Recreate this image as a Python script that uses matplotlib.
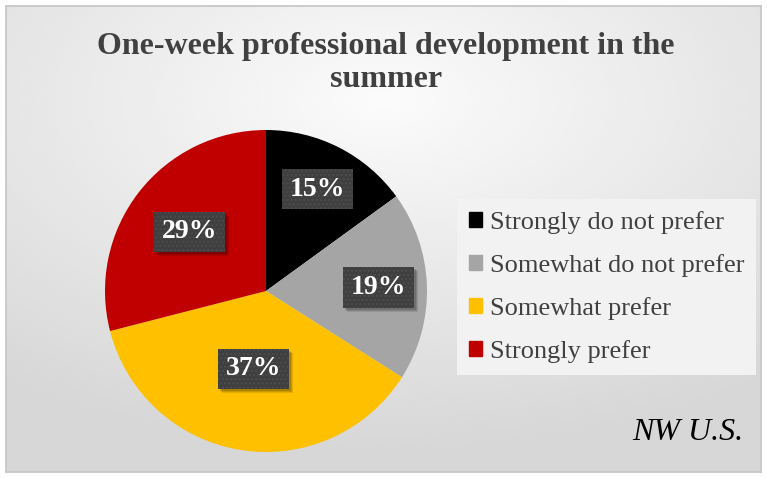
import numpy as np
import matplotlib.pyplot as plt
from matplotlib.patches import Rectangle
from matplotlib.transforms import IdentityTransform

# survey responses
categories = ["Strongly do not prefer", "Somewhat do not prefer",
              "Somewhat prefer", "Strongly prefer"]
shares = [15, 19, 37, 29]
colors = ["#000000", "#a5a5a5", "#ffc000", "#c00000"]
# how far out (fraction of radius) each percent box sits
label_radius = [0.71, 0.70, 0.49, 0.60]

title = "One-week professional development in the\nsummer"
region = "NW U.S."

plt.rcParams["hatch.linewidth"] = 1.0

W, H = 767, 478
fig = plt.figure(figsize=(W / 100, H / 100), dpi=100)
fig.patch.set_facecolor("white")

# radial gray background inside the chart border
bg = fig.add_axes([6 / W, 6 / H, (W - 12) / W, (H - 12) / H])
yy, xx = np.mgrid[0:1:300j, 0:1:480j]
d = np.sqrt(((xx - 0.5) / 1.0) ** 2 + ((yy - 0.8) / 0.9) ** 2)
shade = np.clip(0.985 - 0.17 * d, 0.84, 0.985)
bg.imshow(shade, cmap="gray", vmin=0, vmax=1, origin="lower",
          extent=[0, 1, 0, 1], aspect="auto", interpolation="bicubic")
bg.set_xticks([])
bg.set_yticks([])
for s in bg.spines.values():
    s.set_color("#c8c8c8")
    s.set_linewidth(1.3)

fig.text(0.503, 1 - 63 / H, title, ha="center", va="center",
         fontsize=23, fontweight="bold", family="Liberation Serif",
         color="#404040", linespacing=1.15)

# pie
r_px = 161
cx, cy = 266, 291
ax = fig.add_axes([(cx - r_px) / W, 1 - (cy + r_px) / H,
                   2 * r_px / W, 2 * r_px / H])
wedges, _ = ax.pie(shares, colors=colors, startangle=90, counterclock=False,
                   wedgeprops=dict(linewidth=0))
ax.set_xlim(-1, 1)
ax.set_ylim(-1, 1)
ax.set_aspect("auto")

labels = []
for w, v, rr in zip(wedges, shares, label_radius):
    ang = np.deg2rad((w.theta1 + w.theta2) / 2)
    x, y = rr * np.cos(ang), rr * np.sin(ang)
    t = ax.text(x, y, f"{v}%", ha="center", va="center", fontsize=20,
                fontweight="bold", family="Liberation Serif", color="white",
                zorder=4,
                bbox=dict(boxstyle="square,pad=0.28", facecolor="#3f3f3f",
                          edgecolor="#4d4d4d", hatch="....", linewidth=0))
    labels.append(t)

# soft drop shadow under each label box
fig.canvas.draw()
for t in labels:
    bb = t.get_bbox_patch().get_window_extent()
    for k, a in ((4, 0.10), (3, 0.12), (2, 0.14)):
        ax.add_patch(Rectangle((bb.x0 + k, bb.y0 - k), bb.width, bb.height,
                               transform=IdentityTransform(), facecolor="black",
                               alpha=a, linewidth=0, zorder=3))

# legend
handles = [plt.Rectangle((0, 0), 1, 1, color=c) for c in colors]
leg = fig.legend(handles, categories, loc="upper left",
                 bbox_to_anchor=(457 / W, 1 - 199 / H),
                 prop=dict(family="Liberation Serif", size=19),
                 frameon=True, fancybox=False, handlelength=0.5,
                 handleheight=0.5, handletextpad=0.3, labelspacing=0.76,
                 borderpad=0.45, borderaxespad=0)
leg.get_frame().set_facecolor("#f2f2f2")
leg.get_frame().set_edgecolor("none")
leg.get_frame().set_alpha(1)
for txt in leg.get_texts():
    txt.set_color("#404040")

fig.text(743 / W, 1 - 432 / H, region, ha="right", va="center",
         fontsize=23, fontstyle="italic", family="Liberation Serif",
         color="black")

fig.savefig("out.png", dpi=100)
